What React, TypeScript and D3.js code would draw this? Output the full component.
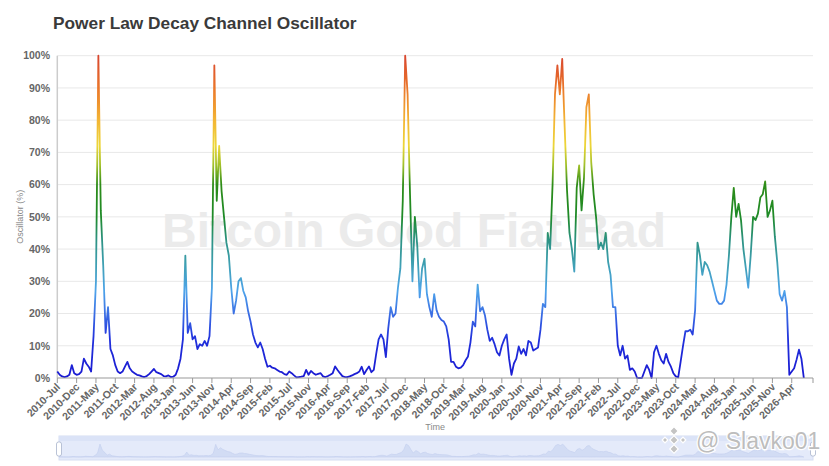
import { useEffect, useRef } from 'react';
import * as d3 from 'd3';

const TITLE = 'Power Law Decay Channel Oscillator';
const WATERMARK = 'Bitcoin Good Fiat Bad';
const CREDIT = '@ Slavko01';
const Y_NAME = 'Oscillator (%)';
const X_NAME = 'Time';

const timeLabels = [
  '2010-Jul', '2010-Dec', '2011-May', '2011-Oct', '2012-Mar', '2012-Aug', '2013-Jan', '2013-Jun',
  '2013-Nov', '2014-Apr', '2014-Sep', '2015-Feb', '2015-Jul', '2015-Nov', '2016-Apr', '2016-Sep',
  '2017-Feb', '2017-Jul', '2017-Dec', '2018-May', '2018-Oct', '2019-Mar', '2019-Aug', '2020-Jan',
  '2020-Jun', '2020-Nov', '2021-Apr', '2021-Sep', '2022-Feb', '2022-Jul', '2022-Dec', '2023-May',
  '2023-Oct', '2024-Mar', '2024-Aug', '2025-Jan', '2025-Jun', '2025-Nov', '2026-Apr',
];

const percentTicks = [0, 10, 20, 30, 40, 50, 60, 70, 80, 90, 100];

// samples between two consecutive time labels, and the axis length in label steps
const SAMPLES_PER_LABEL = 8;
const AXIS_STEPS = 39.1;

// oscillator (%), one row per label step
const oscillator = [
  2, 1, 0.5, 0.3, 0.5, 1, 4, 1.5,
  1, 1.2, 2, 6, 4.5, 3.5, 2, 13,
  30, 100, 52, 35, 14, 22, 9, 7,
  4, 2, 1.5, 2, 3.5, 5, 3, 2,
  1.5, 1, 0.8, 0.5, 0.3, 0.6, 1.2, 2,
  2.8, 1.8, 1.5, 1.2, 0.6, 0.5, 0.8, 0.3,
  0.4, 1, 3, 6, 12, 38, 14, 17,
  12, 13, 9, 10.5, 10, 11.5, 10, 13,
  28, 97, 55, 72, 58, 50, 42, 38,
  28, 20, 24, 30, 31, 27, 25, 20.7,
  17.5, 13.5, 11, 9.5, 11, 9, 6, 3.5,
  3.8, 3.2, 3, 2.5, 2, 1.8, 1.2, 1,
  2, 1.5, 0.8, 0.2, 0.3, 0.4, 0.6, 2.5,
  1, 2.2, 1.5, 1, 1.3, 1.5, 0.5, 0.3,
  0.6, 1, 1.5, 3.6, 2.5, 1.5, 0.6, 0.3,
  0.3, 0.5, 0.8, 1.2, 1.5, 2, 3.5, 1.2,
  2.5, 3.6, 1.8, 2.5, 7.5, 12, 13.5, 12,
  6.5, 15.5, 22, 19, 20, 28, 34, 55,
  100, 88, 57, 30, 50, 41, 25, 34,
  37, 26, 22, 19, 26, 21, 19, 18,
  17.5, 16, 12, 5, 5, 3.5, 3, 3.2,
  4, 5.5, 6.7, 11, 17.5, 16, 29, 20.7,
  22, 19.5, 15, 11.5, 12.5, 10.5, 8, 7,
  10, 12, 13.5, 6, 1, 4.5, 6, 9.8,
  7.5, 9, 7, 11.5, 11, 8.5, 9, 9.5,
  15, 23, 22, 45, 40, 60, 88, 97,
  88, 99, 78, 58, 45, 40, 33, 59,
  66, 52, 62, 84, 88, 67, 57, 50,
  40, 42, 40, 45, 36, 32, 22, 22,
  10, 7, 10, 6, 7, 2.5, 3, 2,
  0, 0, 0, 2, 4, 2.5, 0, 8,
  10, 7.5, 5.5, 4.5, 7.5, 5, 3.5, 1.5,
  0.5, 0.2, 5, 10, 14.5, 14.5, 15, 13.5,
  21, 42, 38, 32, 36, 35, 33, 30,
  27, 24, 23, 23, 24, 29, 38, 50,
  59, 50, 54, 49, 40, 34, 28, 38,
  50, 49, 51, 56, 57, 61, 50, 52,
  55, 44, 36, 26, 24, 27, 22, 1,
  2, 3, 5.7, 8.8, 6, 0,
];

// visual map: oscillator value (%) -> line colour
const colorStops: [number, string][] = [
  [0, '#1a1ad2'], [12, '#2030dc'], [20, '#3a6ee4'], [27, '#4ea4ea'],
  [35, '#3fa0b4'], [43, '#2d9282'], [50, '#1e8a28'], [60, '#2d8c18'],
  [66, '#a0c02a'], [72, '#ecd638'], [80, '#f3b534'], [90, '#ea762a'], [100, '#d8452e'],
];

export default function App() {
  const svgRef = useRef<SVGSVGElement>(null);

  useEffect(() => {
    if (!svgRef.current) return;
    const svg = d3.select(svgRef.current);
    svg.selectAll('*').remove();

    const font = '"Liberation Sans", Arial, Helvetica, sans-serif';
    const left = 57.3, right = 813, top = 55.7, bottom = 378;

    const x = d3.scaleLinear().domain([0, AXIS_STEPS]).range([left, right]);
    const y = d3.scaleLinear().domain([0, 100]).range([bottom, top]);

    const defs = svg.append('defs');
    const grad = defs.append('linearGradient').attr('id', 'oscGrad')
      .attr('gradientUnits', 'userSpaceOnUse')
      .attr('x1', 0).attr('x2', 0).attr('y1', y(0)).attr('y2', y(100));
    colorStops.forEach(([v, c]) => grad.append('stop').attr('offset', `${v}%`).attr('stop-color', c));

    // Title
    svg.append('text').attr('x', 53).attr('y', 29).text(TITLE)
      .attr('font-family', font).attr('font-weight', 'bold').attr('font-size', 17.3).attr('fill', '#3a3a3a');

    // Grid
    svg.append('g').selectAll('line').data(percentTicks.filter(d => d > 0)).enter().append('line')
      .attr('x1', left).attr('x2', right).attr('y1', d => y(d)).attr('y2', d => y(d))
      .attr('stroke', '#e8e8e8').attr('stroke-width', 1);

    // Watermark behind the series
    svg.append('text').attr('x', 414).attr('y', 247).attr('text-anchor', 'middle').text(WATERMARK)
      .attr('font-family', font).attr('font-weight', 'bold').attr('font-size', 48).attr('fill', '#ebebeb');

    // Y axis
    svg.append('line').attr('x1', left).attr('x2', left).attr('y1', top).attr('y2', bottom)
      .attr('stroke', '#cccccc').attr('stroke-width', 1.5);
    svg.append('g').selectAll('text').data(percentTicks).enter().append('text')
      .attr('x', 50).attr('y', d => y(d)).attr('dy', '0.36em').attr('text-anchor', 'end')
      .text(d => `${d}%`)
      .attr('font-family', font).attr('font-weight', 'bold').attr('font-size', 10.5).attr('fill', '#666');
    svg.append('text').attr('transform', `translate(23,${(top + bottom) / 2}) rotate(-90)`)
      .attr('text-anchor', 'middle').text(Y_NAME)
      .attr('font-family', font).attr('font-size', 9).attr('fill', '#888');

    // Series
    const line = d3.line<number>()
      .x((_, i) => x(i / SAMPLES_PER_LABEL))
      .y(d => y(d));
    svg.append('path').datum(oscillator).attr('d', line)
      .attr('fill', 'none').attr('stroke', 'url(#oscGrad)').attr('stroke-width', 1.8)
      .attr('stroke-linejoin', 'round');

    // X axis
    svg.append('line').attr('x1', left).attr('x2', right).attr('y1', bottom).attr('y2', bottom)
      .attr('stroke', '#999').attr('stroke-width', 1);
    const xt = svg.append('g').selectAll('g').data(timeLabels).enter().append('g')
      .attr('transform', (_, i) => `translate(${x(i)},${bottom})`);
    xt.append('line').attr('y1', 0).attr('y2', 5).attr('stroke', '#999');
    xt.append('text').attr('transform', 'translate(1,7) rotate(-45)').attr('text-anchor', 'end')
      .attr('dy', '0.35em').text(d => d)
      .attr('font-family', font).attr('font-weight', 'bold').attr('font-size', 10.5).attr('fill', '#666');
    svg.append('line').attr('x1', right).attr('x2', right).attr('y1', bottom).attr('y2', bottom + 5).attr('stroke', '#999');
    svg.append('text').attr('x', (left + right) / 2).attr('y', 430).attr('text-anchor', 'middle').text(X_NAME)
      .attr('font-family', font).attr('font-size', 9).attr('fill', '#888');

    // Data zoom slider
    const zl = 59, zr = 813, zt = 436, zb = 460;
    const xMini = d3.scaleLinear().domain([0, AXIS_STEPS]).range([zl, zr]);
    const yMini = d3.scaleLinear().domain([0, 100]).range([zb - 3, zt + 8]);
    svg.append('rect').attr('x', zl).attr('y', zt).attr('width', zr - zl).attr('height', zb - zt)
      .attr('fill', '#e4eafa').attr('stroke', '#d6def2');
    svg.append('rect').attr('x', zl).attr('y', zt).attr('width', zr - zl).attr('height', 5)
      .attr('fill', '#dbe3f7');
    const miniArea = d3.area<number>()
      .x((_, i) => xMini(i / SAMPLES_PER_LABEL)).y0(zb - 3).y1(d => yMini(d));
    svg.append('path').datum(oscillator).attr('d', miniArea)
      .attr('fill', '#d2dcf4').attr('stroke', '#c2cfef').attr('stroke-width', 0.6);
    [zl, zr].forEach(hx => {
      svg.append('rect').attr('x', hx - 2.5).attr('y', 442).attr('width', 5).attr('height', 14).attr('rx', 2)
        .attr('fill', '#fff').attr('stroke', '#a8b4cc').attr('stroke-width', 0.8);
    });

    // Credit overlay
    const logo = svg.append('g').attr('transform', 'translate(674,440)')
      .attr('fill', '#c4c4c4').attr('stroke', '#fff').attr('stroke-width', 1.2);
    [[0, 0, 6], [-9, 0, 4], [9, 0, 4], [0, -9, 6], [0, 9, 6]].forEach(([dx, dy, s]) => {
      logo.append('rect').attr('x', -s / 2).attr('y', -s / 2).attr('width', s).attr('height', s)
        .attr('transform', `translate(${dx},${dy}) rotate(45)`);
    });
    svg.append('text').attr('x', 696).attr('y', 449).text(CREDIT)
      .attr('font-family', font).attr('font-size', 23).attr('fill', '#bdbdbd')
      .attr('stroke', '#ffffff').attr('stroke-width', 2.5).attr('paint-order', 'stroke');
  }, []);

  return (
    <svg ref={svgRef} width={829} height={466} viewBox="0 0 829 466"
      style={{ position: 'absolute', left: 0, top: 0, background: '#fff' }} />
  );
}
